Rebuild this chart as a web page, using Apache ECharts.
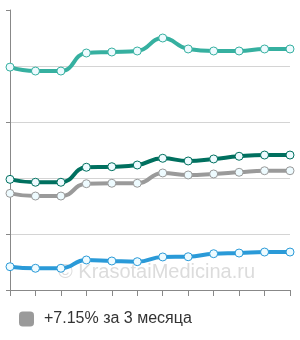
<!DOCTYPE html>
<html>
<head>
<meta charset="utf-8">
<script src="https://cdn.jsdelivr.net/npm/echarts@6/dist/echarts.min.js"></script>
<style>
  html, body { margin: 0; padding: 0; background: #fff; }
  #chart { width: 300px; height: 340px; }
</style>
</head>
<body>
<div id="chart"></div>
<script>
// 12 points, no labels shown on the axis
const categories = ["1", "2", "3", "4", "5", "6", "7", "8", "9", "10", "11", "12"];

const tealLight = [199, 195.5, 195.5, 211.6, 212.5, 213.4, 225, 215.2, 213.4, 213.4, 215.2, 215.2];
const tealDark = [98.8, 96.2, 96.2, 109.6, 110.1, 111.6, 117.6, 115.2, 117, 119.4, 120.5, 120.5];
const grey = [86.3, 83.9, 83.9, 94.9, 95.3, 95.3, 104.5, 102.7, 103.6, 105.1, 106.5, 106.5];
const blue = [20.8, 19.4, 19.4, 26.8, 25.9, 25.3, 29.5, 29.7, 32.4, 33, 33.9, 33.9];

const legendName = "+7.15% за 3 месяца";

function lineSeries(name, data, color) {
  return {
    name: name,
    type: "line",
    data: data,
    smooth: 0.5,
    symbol: "circle",
    symbolSize: 8,
    showAllSymbol: true,
    z: 3,
    lineStyle: { color: color, width: 4 },
    itemStyle: { color: "#eefbff", borderColor: color, borderWidth: 1 },
    emphasis: { disabled: true },
  };
}

const chart = echarts.init(document.getElementById("chart"));
chart.setOption({
  animation: false,
  backgroundColor: "#fff",
  grid: { left: 10, right: 10, top: 10, bottom: 50 },
  legend: {
    data: [{ name: legendName, icon: "roundRect", itemStyle: { color: "#9a9a9a", borderWidth: 0 } }],
    left: 14,
    top: 306,
    itemWidth: 15,
    itemHeight: 15,
    textStyle: { fontSize: 16, color: "#333", fontFamily: "Liberation Sans", padding: [0, 0, 0, 5] },
  },
  graphic: [
    {
      type: "text",
      left: 58,
      top: 262,
      silent: true,
      z: 0,
      style: {
        text: "© KrasotaiMedicina.ru",
        fill: "#dcdcdc",
        fontSize: 20,
        fontFamily: "Liberation Sans",
      },
    },
  ],
  xAxis: {
    type: "category",
    data: categories,
    boundaryGap: false,
    axisLine: { lineStyle: { color: "#888" } },
    axisTick: { show: true, length: 6, lineStyle: { color: "#888" } },
    axisLabel: { show: false },
  },
  yAxis: {
    type: "value",
    min: 0,
    max: 250,
    interval: 50,
    axisLine: { show: true, lineStyle: { color: "#888" } },
    axisTick: { show: true, length: 4, lineStyle: { color: "#888" } },
    axisLabel: { show: false },
    splitLine: {
      lineStyle: { color: ["#d4d4d4", "#d4d4d4", "#d4d4d4", "#d4d4d4", "#d4d4d4", "rgba(0,0,0,0)"] },
    },
  },
  series: [
    lineSeries("teal", tealLight, "#36b0a0"),
    lineSeries(legendName, grey, "#9a9a9a"),
    lineSeries("dark", tealDark, "#00705f"),
    lineSeries("blue", blue, "#2a9ad8"),
  ],
});
</script>
</body>
</html>
